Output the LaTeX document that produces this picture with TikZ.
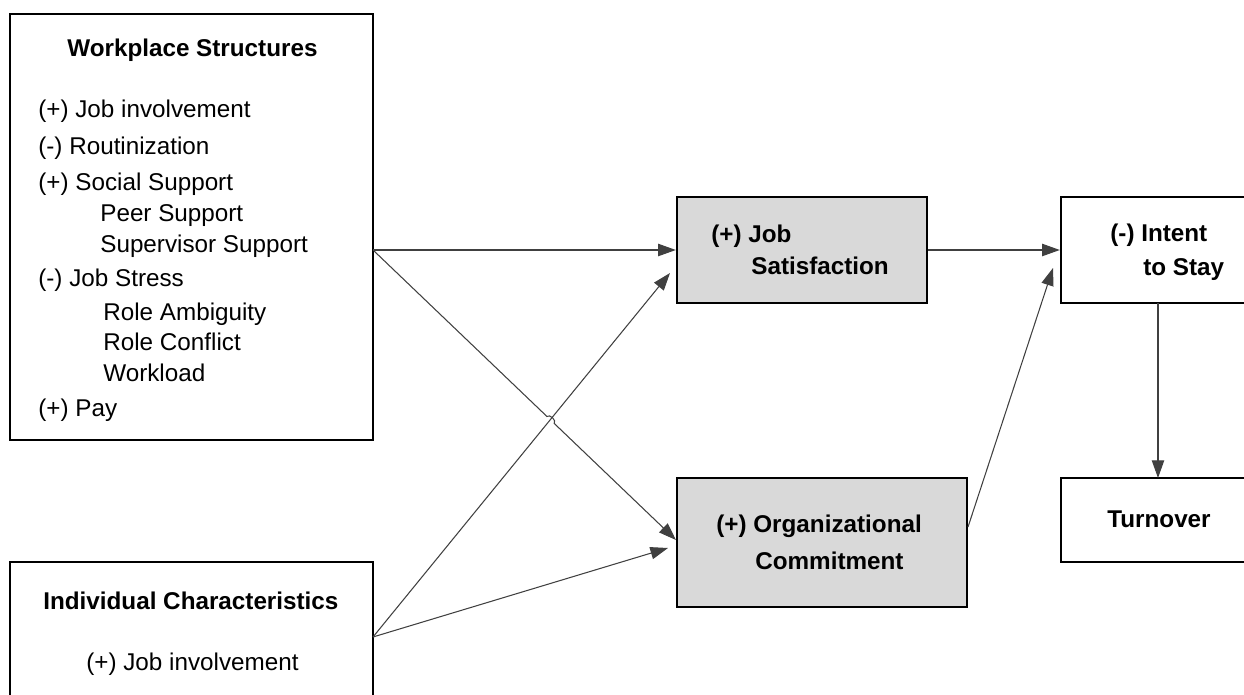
\documentclass[tikz,border=0pt]{standalone}
\usepackage{fontspec}
\setmainfont{Liberation Sans}
\usepackage{tikz}
\usetikzlibrary{calc}
\usetikzlibrary{arrows.meta}

\definecolor{boxgray}{RGB}{217,217,217}
\definecolor{linegray}{RGB}{64,64,64}

\begin{document}
\begin{tikzpicture}[x=0.02cm,y=-0.02cm]
	\tikzstyle{every node}=[font=\fontsize{13.8}{16}\selectfont]
	\tikzstyle{box}=[draw=black, line width=1.4pt, rectangle, inner sep=0pt]
	\tikzstyle{shaded}=[box, fill=boxgray]
	\tikzstyle{txt}=[anchor=base west, inner sep=0pt]
	\tikzstyle{conn}=[draw=linegray, line width=0.6pt, -{Triangle[length=10pt,width=7pt]}]
	
	\useasboundingbox (0,0) rectangle (1244,695);
	\clip (0,0) rectangle (1244,695);
	
	% boxes
	\node[box, minimum width=7.26cm, minimum height=8.52cm] (ws) at (191.5,227) {};
	\node[box, minimum width=7.26cm, minimum height=3.96cm] (ic) at (191.5,661) {};
	\node[shaded, minimum width=5cm, minimum height=2.12cm] (js) at (802,250) {};
	\node[shaded, minimum width=5.8cm, minimum height=2.58cm] (oc) at (822,542.5) {};
	\node[box, minimum width=4.78cm, minimum height=2.12cm] (its) at (1180.5,250) {};
	\node[box, minimum width=4.78cm, minimum height=1.68cm] (tov) at (1180.5,520) {};
	
	% texts
	\node[txt] (wst) at (67,57) {\textbf{Workplace Structures}};
	\node[txt] (ws1) at (38,118) {(+) Job involvement};
	\node[txt] (ws2) at (38,155) {(-) Routinization};
	\node[txt] (ws3) at (38,191) {(+) Social Support};
	\node[txt] (ws3a) at (100,222) {Peer Support};
	\node[txt] (ws3b) at (100,253) {Supervisor Support};
	\node[txt] (ws4) at (38,287) {(-) Job Stress};
	\node[txt] (ws4a) at (103,321) {Role Ambiguity};
	\node[txt] (ws4b) at (103,351) {Role Conflict};
	\node[txt] (ws4c) at (103,382) {Workload};
	\node[txt] (ws5) at (38,417) {(+) Pay};
	
	\node[txt] (ict) at (43,609) {\textbf{Individual Characteristics}};
	\node[txt] (ic1) at (86,670) {(+) Job involvement};
	
	\node[txt] (jst1) at (711,243) {\textbf{(+) Job}};
	\node[txt] (jst2) at (751,275) {\textbf{Satisfaction}};
	\node[txt] (oct1) at (716,533) {\textbf{(+) Organizational}};
	\node[txt] (oct2) at (755,569) {\textbf{Commitment}};
	\node[txt] (itst1) at (1110,242) {\textbf{(-) Intent}};
	\node[txt] (itst2) at (1143,276) {\textbf{to Stay}};
	\node[txt] (tovt) at (1107,528) {\textbf{Turnover}};
	
	% connector ends
	\coordinate (wsout) at (373,250);
	\coordinate (icout) at (373,637);
	\coordinate (ocin1) at (676,540);
	\coordinate (ocin2) at (668,548);
	\coordinate (jsin2) at (670,273);
	\coordinate (ocout) at (968,527);
	\coordinate (itsin2) at (1053,268);
	\coordinate (itsout) at (1158,303);
	\coordinate (tovin) at (1158,478);
	
	\draw[conn] (wsout) -- (js.west);
	\draw[conn] (wsout) -- ($(wsout)!0.574!(ocin1)$) to[bend left=90] ($(wsout)!0.598!(ocin1)$) -- (ocin1);
	\draw[conn] (icout) -- (jsin2);
	\draw[conn] (icout) -- (ocin2);
	\draw[conn] (js.east) -- (its.west);
	\draw[conn] (ocout) -- (itsin2);
	\draw[conn] (itsout) -- (tovin);
	
\end{tikzpicture}
\end{document}
